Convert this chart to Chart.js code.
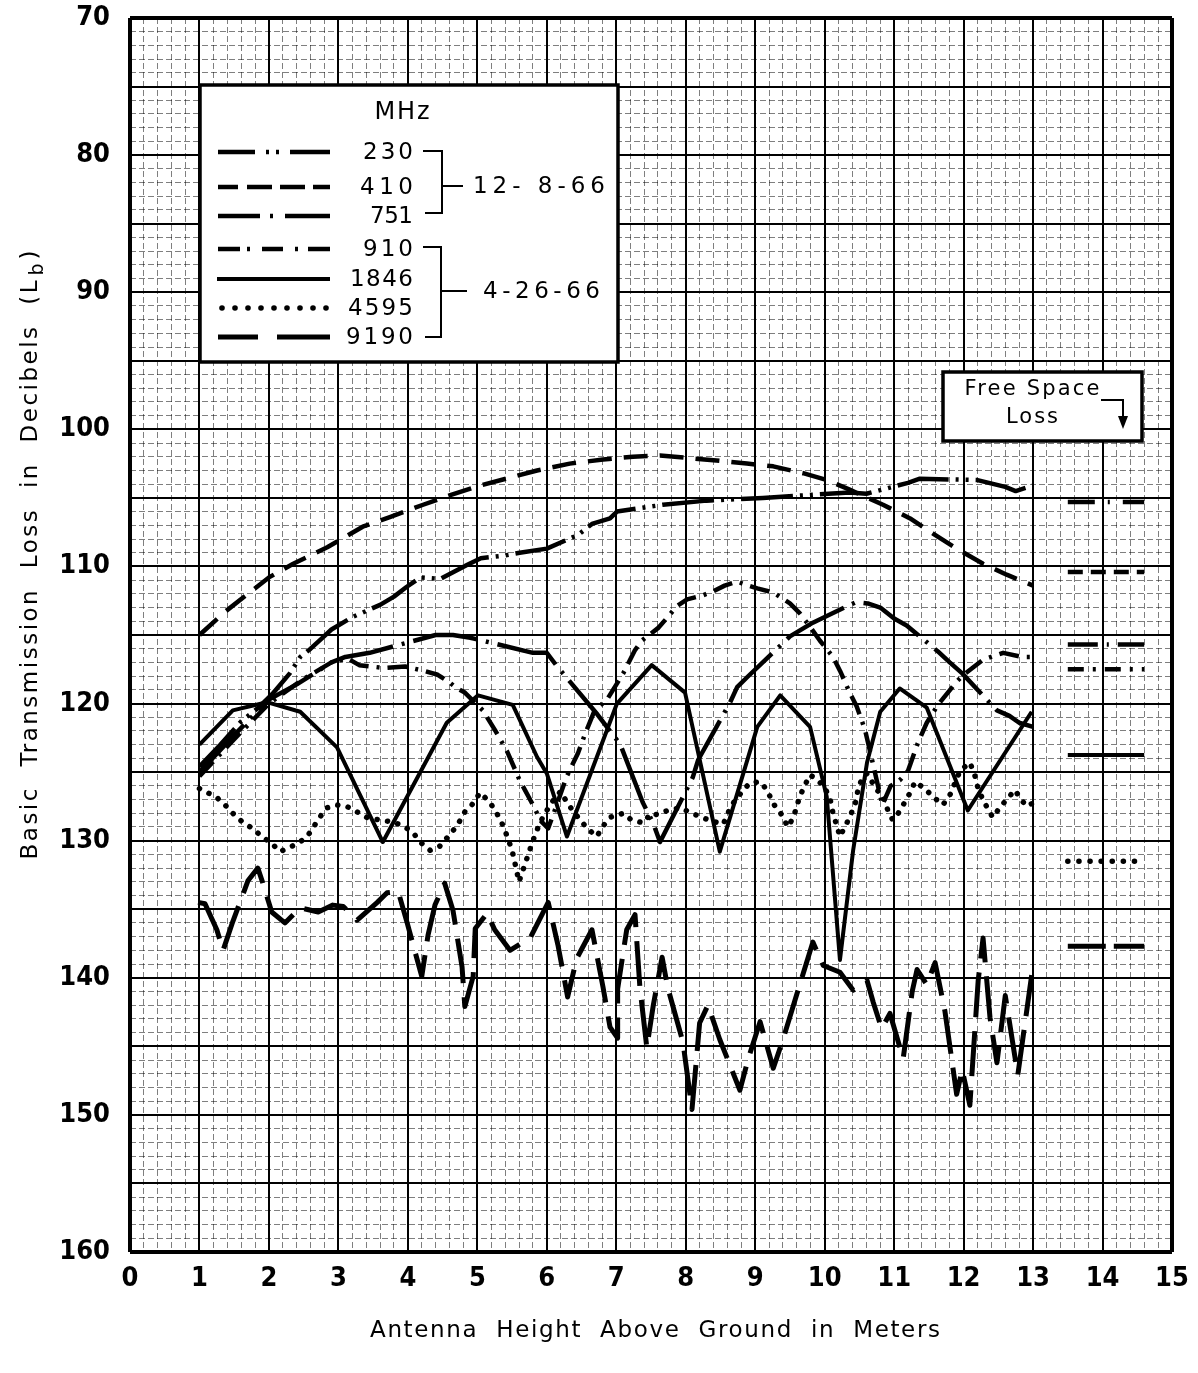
<!DOCTYPE html>
<html>
<head>
<meta charset="utf-8">
<script src="https://cdn.jsdelivr.net/npm/chart.js@4.4.1/dist/chart.umd.min.js"></script>
<style>
html,body{margin:0;padding:0;background:#fff;}
#wrap{width:1198px;height:1373px;position:relative;}
</style>
</head>
<body>
<div id="wrap"><canvas id="c"></canvas></div>
<script>
// ---------------- DATA ----------------
const freqLabels = ['230', '410', '751', '910', '1846', '4595', '9190'];
const dateGroups = ['12- 8-66', '4-26-66'];
const xTickLabels = ['0','1','2','3','4','5','6','7','8','9','10','11','12','13','14','15'];
const yTickLabels = ['70','80','90','100','110','120','130','140','150','160'];
const xTitle = 'Antenna  Height  Above  Ground  in  Meters';
const yTitleMain = 'Basic  Transmission  Loss  in  Decibels  (L';
const yTitleSub = 'b';
const freeSpaceText = ['Free Space', 'Loss'];

// [antenna height (m), basic transmission loss (dB)]
const s230 = [[1.0,124.6],[1.3,123.0],[1.6,121.3],[1.85,120.3],[2.05,119.3],[2.3,117.8],[2.45,116.6],[2.6,116.0],[2.75,115.3],[2.9,114.6],[3.2,113.7],[3.6,112.8],[3.8,112.2],[3.98,111.5],[4.18,110.8],[4.47,110.9],[4.85,109.9],[5.05,109.4],[5.4,109.2],[5.61,109.0],[6.0,108.7],[6.45,107.7],[6.65,106.9],[6.91,106.5],[7.01,106.0],[7.67,105.5],[8.3,105.2],[9.11,105.0],[9.75,104.8],[10.36,104.6],[10.6,104.7],[11.2,103.9],[11.37,103.6],[12.2,103.7],[12.6,104.2],[12.75,104.5],[13.0,104.1]];
const s410 = [[1.0,115.0],[1.37,113.3],[2.0,110.8],[2.35,109.8],[2.84,108.6],[3.35,107.1],[3.74,106.4],[4.22,105.5],[4.61,104.8],[5.04,104.1],[5.86,103.0],[6.33,102.5],[6.81,102.2],[7.24,102.0],[7.63,101.9],[8.06,102.1],[8.49,102.3],[8.88,102.5],[9.26,102.7],[9.69,103.2],[10.03,103.7],[10.36,104.4],[10.84,105.5],[11.23,106.5],[11.56,107.6],[11.9,108.7],[12.28,109.8],[12.62,110.6],[13.0,111.4]];
const s751 = [[1.0,125.0],[1.5,122.3],[2.0,119.7],[2.4,118.6],[2.9,117.0],[3.1,116.6],[3.45,116.3],[4.4,115.0],[4.65,115.0],[4.9,115.2],[5.8,116.3],[6.0,116.3],[6.15,117.3],[6.73,120.8],[7.06,123.0],[7.38,127.2],[7.53,128.7],[7.63,130.1],[8.1,125.4],[8.18,124.1],[8.64,119.9],[8.74,118.8],[8.88,118.1],[9.5,115.1],[9.83,114.1],[10.45,112.6],[10.62,112.7],[10.8,113.0],[11.0,113.8],[11.18,114.3],[11.63,116.2],[11.8,117.0],[11.98,117.8],[12.48,120.5],[12.66,120.9],[12.8,121.4],[13.0,121.7]];
const s910 = [[1.0,125.3],[1.5,122.6],[2.0,120.0],[2.5,118.2],[2.9,117.0],[3.13,116.7],[3.3,117.2],[3.65,117.4],[3.96,117.3],[4.22,117.6],[4.43,117.9],[4.61,118.5],[4.71,118.9],[4.82,119.2],[5.08,120.5],[5.25,121.9],[5.43,123.5],[5.61,125.6],[5.78,127.2],[5.92,128.6],[6.02,129.1],[6.15,127.3],[6.28,125.4],[6.45,123.6],[6.56,122.1],[6.68,120.6],[6.88,119.6],[7.1,117.8],[7.27,116.1],[7.37,115.4],[7.6,114.5],[7.74,113.7],[7.87,112.9],[8.02,112.4],[8.25,112.1],[8.4,111.8],[8.56,111.4],[8.74,111.1],[8.9,111.4],[9.03,111.6],[9.26,111.9],[9.5,112.7],[9.64,113.4],[9.79,114.4],[9.93,115.4],[10.12,116.6],[10.22,117.6],[10.36,119.2],[10.46,120.2],[10.58,121.9],[10.7,124.5],[10.83,127.4],[10.95,126.0],[11.08,125.6],[11.2,124.9],[11.34,122.9],[11.47,121.4],[11.63,120.1],[11.9,118.4],[12.0,117.9],[12.28,116.8],[12.57,116.3],[12.84,116.6],[13.0,116.6]];
const s1846 = [[1.0,123.0],[1.48,120.5],[1.97,119.9],[2.45,120.6],[2.98,123.2],[3.64,130.1],[4.56,121.4],[5.01,119.4],[5.51,120.1],[5.86,123.9],[6.0,125.1],[6.29,129.7],[7.01,120.0],[7.51,117.2],[7.99,119.2],[8.49,130.8],[9.03,121.7],[9.36,119.4],[9.79,121.7],[10.03,126.8],[10.22,138.7],[10.41,130.7],[10.61,124.3],[10.8,120.6],[11.08,118.9],[11.47,120.3],[12.06,127.8],[12.98,120.6]];
const s4595 = [[1.0,126.2],[1.12,126.5],[1.26,126.9],[1.37,127.4],[1.48,128.0],[1.61,128.6],[1.76,129.1],[1.9,129.7],[2.04,130.2],[2.16,130.8],[2.29,130.5],[2.42,130.2],[2.55,129.7],[2.63,129.1],[2.73,128.3],[2.84,127.6],[2.98,127.4],[3.12,127.5],[3.27,127.9],[3.41,128.3],[3.6,128.5],[3.74,128.6],[3.93,128.9],[4.07,129.4],[4.2,130.2],[4.32,130.7],[4.46,130.4],[4.58,129.7],[4.71,128.9],[4.82,127.9],[4.92,127.4],[5.04,126.5],[5.18,127.2],[5.28,128.0],[5.37,128.9],[5.43,129.7],[5.5,130.7],[5.54,131.6],[5.6,133.0],[5.7,131.5],[5.8,130.0],[5.9,128.7],[6.0,127.8],[6.1,127.0],[6.2,126.4],[6.3,127.3],[6.45,128.3],[6.58,129.1],[6.72,129.7],[6.8,129.0],[6.91,128.3],[7.1,128.0],[7.22,128.5],[7.39,128.7],[7.5,128.0],[7.58,128.1],[7.74,127.8],[7.92,127.6],[8.09,128.0],[8.23,128.3],[8.4,128.6],[8.54,128.8],[8.65,127.5],[8.75,126.8],[8.92,125.8],[9.07,125.7],[9.17,126.3],[9.26,127.3],[9.38,128.1],[9.47,129.0],[9.55,128.3],[9.64,126.8],[9.72,125.9],[9.79,125.2],[9.9,125.6],[10.0,126.1],[10.08,127.0],[10.12,128.0],[10.18,129.0],[10.22,129.7],[10.29,129.0],[10.36,128.3],[10.44,127.3],[10.48,126.3],[10.54,125.4],[10.61,125.1],[10.75,126.3],[10.84,126.7],[10.91,127.8],[10.98,128.5],[11.06,128.0],[11.13,127.4],[11.23,126.5],[11.3,125.7],[11.44,126.2],[11.54,126.7],[11.7,127.4],[11.8,126.7],[11.95,124.9],[12.09,124.3],[12.16,125.2],[12.19,125.9],[12.26,126.8],[12.34,127.6],[12.42,128.3],[12.52,127.6],[12.62,127.0],[12.74,126.3],[12.81,126.9],[12.91,127.5],[12.98,127.3]];
const s9190 = [[0.98,134.5],[1.08,134.6],[1.25,136.5],[1.34,138.0],[1.48,135.9],[1.7,132.9],[1.84,132.0],[1.9,132.9],[2.04,135.2],[2.23,136.0],[2.45,134.9],[2.71,135.2],[2.92,134.7],[3.07,134.8],[3.27,135.8],[3.56,134.5],[3.7,133.8],[3.86,133.7],[3.99,136.0],[4.2,139.9],[4.29,136.9],[4.39,134.7],[4.53,133.1],[4.65,135.1],[4.78,139.2],[4.82,142.1],[4.94,139.9],[4.97,136.4],[5.14,135.3],[5.25,136.5],[5.47,138.0],[5.76,137.1],[6.02,134.5],[6.16,137.6],[6.3,141.4],[6.43,138.6],[6.65,136.5],[6.81,140.7],[6.91,143.6],[7.02,144.4],[7.02,140.8],[7.15,136.5],[7.27,135.4],[7.34,140.7],[7.44,145.1],[7.53,142.1],[7.66,138.5],[7.74,140.7],[7.96,144.7],[8.09,149.6],[8.2,143.3],[8.32,142.0],[8.49,144.5],[8.78,148.2],[8.9,145.9],[9.07,143.2],[9.26,146.6],[9.4,144.5],[9.69,139.7],[9.83,137.4],[9.98,139.1],[10.22,139.6],[10.41,140.9],[10.61,140.2],[10.7,141.8],[10.82,143.7],[10.94,142.6],[11.13,145.9],[11.26,141.0],[11.33,139.4],[11.47,140.5],[11.59,138.9],[11.73,142.4],[11.9,148.5],[11.98,146.7],[12.09,149.3],[12.21,140.2],[12.28,137.1],[12.38,142.9],[12.48,146.2],[12.6,141.3],[12.78,147.1],[12.98,139.8]];
const freeSpaceLoss = [105.3, 110.4, 115.7, 117.5, 123.75, 131.5, 137.7];
const freeSpaceSpan = [13.5, 14.6];

// ---------------- STYLES ----------------
const seriesData = [s230, s410, s751, s910, s1846, s4595, s9190];
const lineStyle = [
  {w:4.5, dash:[52,7,3,7,3,7], cap:'butt'},
  {w:4.5, dash:[24,12], cap:'butt'},
  {w:4.5, dash:[65,9,3,9], cap:'butt'},
  {w:4.5, dash:[20,8,3,8], cap:'butt'},
  {w:4, dash:[], cap:'butt'},
  {w:5.5, dash:[0.1,10.5], cap:'round'},
  {w:5, dash:[45,14], cap:'butt'}
];
const fsDash = [[27,13,2,13,40],[15,8],[30,9,2,9,40],[16,9,3,9],[],[0.1,11],[38,8,40]];

const datasets = [];
freqLabels.forEach((f, i) => {
  const st = lineStyle[i];
  datasets.push({
    label: f + ' MHz',
    data: seriesData[i].map(([x, y]) => ({x, y})),
    borderColor: '#000', borderWidth: st.w, borderDash: st.dash,
    borderCapStyle: st.cap, borderJoinStyle: 'round',
    pointRadius: 0, tension: 0, fill: false
  });
});
freqLabels.forEach((f, i) => {
  const st = lineStyle[i];
  datasets.push({
    label: f + ' MHz free space',
    data: freeSpaceSpan.map(x => ({x, y: freeSpaceLoss[i]})),
    borderColor: '#000', borderWidth: st.w, borderDash: fsDash[i],
    borderCapStyle: st.cap, pointRadius: 0, tension: 0, fill: false
  });
});

const tickFont = {family: "'Liberation Sans Narrow','DejaVu Sans Condensed','Arial Narrow',sans-serif", size: 27, weight: 'bold'};
const isInt = v => Math.abs(v - Math.round(v)) < 1e-6;
const MINOR = 'rgba(0,0,0,0.5)';

function spaced(ctx, text, x, y, width, align) {
  ctx.letterSpacing = '0px';
  const w0 = ctx.measureText(text).width;
  const n = text.length;
  let ls = n > 1 ? (width - w0) / (n - 1) : 0;
  ls = Math.max(-1, Math.min(16, ls));
  const w = w0 + ls * (n - 1);
  const sx = align === 'center' ? x - w / 2 : align === 'right' ? x - w : x;
  ctx.textAlign = 'left';
  ctx.letterSpacing = ls + 'px';
  ctx.fillText(text, sx, y);
  ctx.letterSpacing = '0px';
  return w;
}

// legend sample strokes (pixel positions inside the legend box)
const legendRowsY = [152, 187, 216, 249, 279, 308, 337];
const legendSegs = [
  [[218,255],[266,269],[276,279],[290,330]],
  [[218,238],[247,272],[280,305],[313,330]],
  [[218,260],[270,273],[285,330]],
  [[218,240],[247,250],[262,283],[295,298],[308,330]],
  [[217,330]],
  null,
  [[218,258],[277,330]]
];

const overlay = {
  id: 'overlay',
  afterDraw(chart) {
    const ctx = chart.ctx;
    ctx.save();
    ctx.fillStyle = '#000';
    ctx.strokeStyle = '#000';
    // ---- axis titles ----
    ctx.font = '23px "DejaVu Sans"';
    ctx.textBaseline = 'middle';
    spaced(ctx, xTitle, 655, 1331, 570, 'center');

    ctx.save();
    ctx.translate(31, 557);
    ctx.rotate(-Math.PI / 2);
    ctx.font = '23px "DejaVu Sans"';
    const total = 605;
    const subW = 16;
    const mainTarget = total - subW - 10;
    const wm = spaced(ctx, yTitleMain, -total / 2, 0, mainTarget, 'left');
    ctx.font = '19px "DejaVu Sans"';
    ctx.textAlign = 'left';
    ctx.fillText(yTitleSub, -total / 2 + wm + 5, 7);
    ctx.font = '23px "DejaVu Sans"';
    ctx.fillText(')', -total / 2 + wm + 5 + subW, 0);
    ctx.restore();

    // ---- legend box ----
    const bx = 200, by = 85, bw = 418, bh = 277;
    ctx.fillStyle = '#fff';
    ctx.fillRect(bx, by, bw, bh);
    ctx.lineWidth = 3.5;
    ctx.strokeRect(bx, by, bw, bh);
    ctx.fillStyle = '#000';
    ctx.font = '24px "DejaVu Sans"';
    ctx.textBaseline = 'middle';
    spaced(ctx, 'MHz', 402, 113, 55, 'center');
    ctx.font = '23px "DejaVu Sans"';
    const labelW = [50, 53, 43, 50, 63, 65, 67];
    freqLabels.forEach((f, i) => {
      const yy = legendRowsY[i];
      spaced(ctx, f, 413, yy + 1, labelW[i], 'right');
      const st = lineStyle[i];
      ctx.lineWidth = st.w;
      ctx.setLineDash([]);
      if (legendSegs[i]) {
        ctx.lineCap = 'butt';
        legendSegs[i].forEach(([a, b]) => {
          ctx.beginPath(); ctx.moveTo(a, yy); ctx.lineTo(b, yy); ctx.stroke();
        });
      } else {
        for (let k = 0; k < 9; k++) {
          ctx.beginPath(); ctx.arc(222 + k * 13, yy, 2.8, 0, Math.PI * 2); ctx.fill();
        }
      }
    });
    // brackets
    ctx.lineWidth = 2;
    ctx.lineCap = 'butt';
    ctx.beginPath();
    ctx.moveTo(423, 151); ctx.lineTo(442, 151); ctx.lineTo(442, 213); ctx.lineTo(425, 213);
    ctx.moveTo(442, 186); ctx.lineTo(463, 186);
    ctx.moveTo(423, 247); ctx.lineTo(441, 247); ctx.lineTo(441, 337); ctx.lineTo(425, 337);
    ctx.moveTo(441, 291); ctx.lineTo(467, 291);
    ctx.stroke();
    ctx.font = '23px "DejaVu Sans"';
    spaced(ctx, dateGroups[0], 473, 187, 132, 'left');
    spaced(ctx, dateGroups[1], 483, 292, 117, 'left');

    // ---- free space box ----
    const fx = 943, fy = 372, fw = 199, fh = 69;
    ctx.fillStyle = '#fff';
    ctx.fillRect(fx, fy, fw, fh);
    ctx.lineWidth = 3.5;
    ctx.strokeRect(fx, fy, fw, fh);
    ctx.fillStyle = '#000';
    ctx.font = '21px "DejaVu Sans"';
    spaced(ctx, freeSpaceText[0], 1032, 390, 135, 'center');
    spaced(ctx, freeSpaceText[1], 1032, 418, 52, 'center');
    ctx.lineWidth = 2;
    ctx.beginPath();
    ctx.moveTo(1101, 400); ctx.lineTo(1123, 400); ctx.lineTo(1123, 420);
    ctx.stroke();
    ctx.beginPath();
    ctx.moveTo(1118, 416); ctx.lineTo(1128, 416); ctx.lineTo(1123, 429); ctx.closePath();
    ctx.fill();
    ctx.restore();
  }
};

new Chart(document.getElementById('c'), {
  type: 'line',
  data: {datasets},
  options: {
    responsive: true,
    maintainAspectRatio: false,
    animation: false,
    layout: {padding: {top: 18, right: 26, left: 0, bottom: 0}},
    plugins: {legend: {display: false}, tooltip: {enabled: false}},
    scales: {
      x: {
        type: 'linear', min: 0, max: 15,
        ticks: {
          stepSize: 0.2, autoSkip: false, maxRotation: 0, minRotation: 0, padding: 11,
          color: '#000', font: tickFont,
          callback: v => isInt(v) ? xTickLabels[Math.round(v)] : ''
        },
        grid: {
          drawTicks: false,
          color: c => isInt(c.tick.value) ? '#000' : MINOR,
          lineWidth: c => {
            const v = c.tick.value;
            if (Math.abs(v) < 1e-6 || Math.abs(v - 15) < 1e-6) return 4;
            return isInt(v) ? 2 : 1;
          }
        },
        border: {display: false, dash: c => (c.tick && !isInt(c.tick.value)) ? [6, 3] : []},
        afterFit: s => { s.height = 121; s.paddingLeft = 0; s.paddingRight = 0; }
      },
      y: {
        type: 'linear', min: 70, max: 160, reverse: true,
        ticks: {
          stepSize: 1, autoSkip: false, padding: 20,
          color: '#000', font: tickFont,
          callback: v => (Math.round(v) % 10 === 0) ? yTickLabels[(Math.round(v) - 70) / 10] : ''
        },
        grid: {
          drawTicks: false,
          color: c => (Math.round(c.tick.value) % 5 === 0) ? '#000' : MINOR,
          lineWidth: c => {
            const v = Math.round(c.tick.value);
            if (v === 70 || v === 160) return 4;
            return v % 5 === 0 ? 2 : 1;
          }
        },
        border: {display: false, dash: c => (c.tick && Math.round(c.tick.value) % 5 !== 0) ? [6, 3] : []},
        afterFit: s => { s.width = 130; s.paddingTop = 0; s.paddingBottom = 0; }
      }
    }
  },
  plugins: [overlay]
});
</script>
</body>
</html>
